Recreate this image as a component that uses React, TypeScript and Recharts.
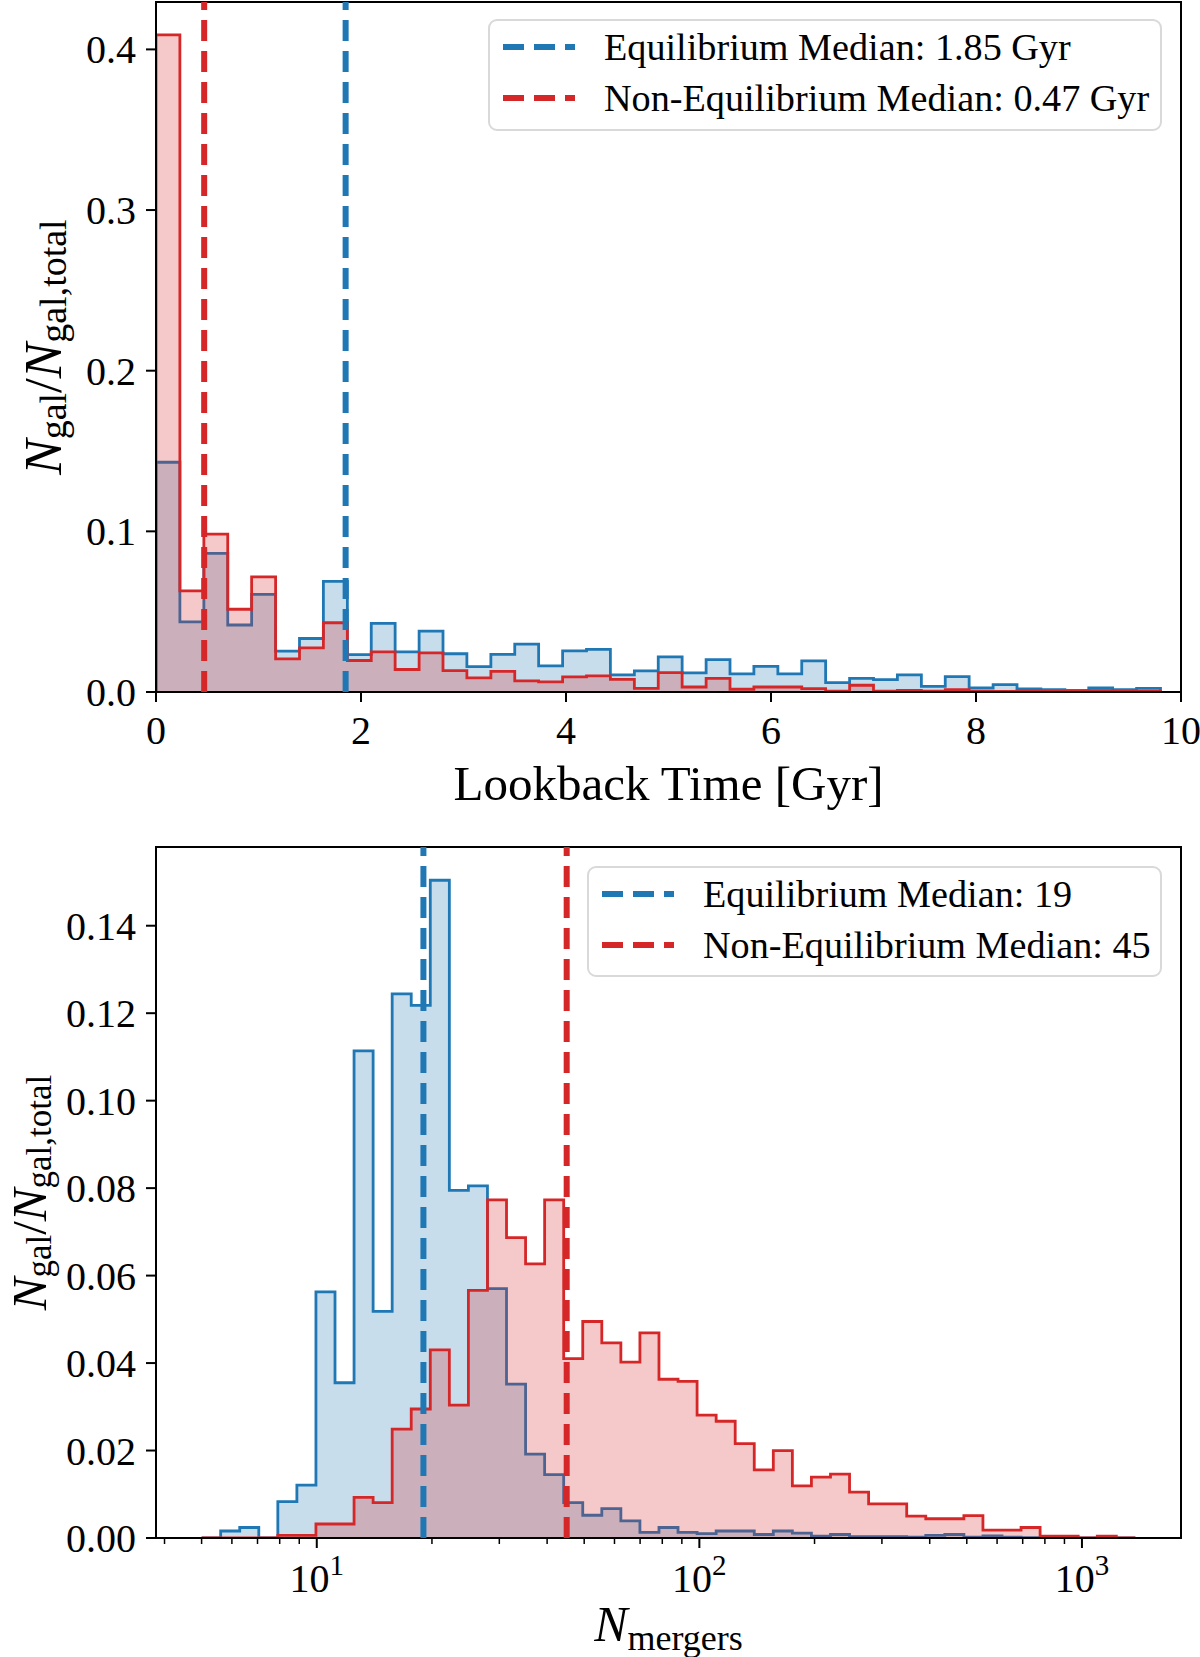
import React from "react";
import {
  ComposedChart,
  Area,
  XAxis,
  YAxis,
  ReferenceLine,
  ReferenceArea,
  Legend,
} from "recharts";

const BLUE = "#1f77b4";
const RED = "#d62728";
const FONT = '"Liberation Serif", "Times New Roman", serif';

// ---- lookback time of last merger (Gyr), 42 shared bins ----
const timeEdges = [
  0, 0.233, 0.467, 0.7, 0.933, 1.167, 1.4, 1.633, 1.867, 2.1, 2.333, 2.567,
  2.8, 3.033, 3.267, 3.5, 3.733, 3.967, 4.2, 4.433, 4.667, 4.9, 5.133, 5.367,
  5.6, 5.833, 6.067, 6.3, 6.533, 6.767, 7.0, 7.233, 7.467, 7.7, 7.933, 8.167,
  8.4, 8.633, 8.867, 9.1, 9.333, 9.567, 9.8,
];
const timeEquilibrium = [
  0.143, 0.0437, 0.0863, 0.0417, 0.0608, 0.0254, 0.0333, 0.0688, 0.0233,
  0.0427, 0.025, 0.0379, 0.0238, 0.0158, 0.0234, 0.0298, 0.0163, 0.0256,
  0.0265, 0.0106, 0.0131, 0.0219, 0.0119, 0.0202, 0.0113, 0.016, 0.0113,
  0.0194, 0.0058, 0.0085, 0.0077, 0.0106, 0.0035, 0.0096, 0.0025, 0.0046,
  0.0019, 0.0015, 0.001, 0.0025, 0.0015, 0.0023,
];
const timeNonEquilibrium = [
  0.409, 0.0629, 0.0983, 0.0515, 0.0717, 0.0206, 0.0275, 0.0431, 0.0196,
  0.025, 0.014, 0.0244, 0.0133, 0.0088, 0.0129, 0.0069, 0.0063, 0.0094, 0.01,
  0.0079, 0.0023, 0.0121, 0.0031, 0.0085, 0.0017, 0.0031, 0.0031, 0.0021,
  0.0006, 0.0042, 0.0006, 0.001, 0.0006, 0.0015, 0.0004, 0.0004, 0.0006,
  0.0004, 0.0004, 0.0008, 0.0003, 0.0004,
];
const timeTicks = [0, 2, 4, 6, 8, 10];
const timeFracTicks = [0, 0.1, 0.2, 0.3, 0.4];
const timeMedianEq = 1.85;
const timeMedianNeq = 0.47;

// ---- number of mergers, 49 log-spaced shared bins ----
const mergerEdges = [
  5.0, 5.608, 6.289, 7.054, 7.911, 8.872, 9.95, 11.16, 12.516, 14.037, 15.743,
  17.656, 19.802, 22.208, 24.907, 27.934, 31.329, 35.136, 39.406, 44.195,
  49.566, 55.59, 62.345, 69.922, 78.42, 87.949, 98.638, 110.63, 124.07,
  139.15, 156.06, 175.02, 196.29, 220.15, 246.9, 276.91, 310.56, 348.3,
  390.63, 438.1, 491.34, 551.05, 618.02, 693.13, 777.36, 871.84, 977.79,
  1096.6, 1229.9, 1379.3,
];
const mergerEquilibrium = [
  0, 0.0016, 0.0024, 0, 0.0083, 0.0121, 0.0563, 0.0355, 0.1114, 0.0518,
  0.1244, 0.1218, 0.1504, 0.0795, 0.0805, 0.057, 0.0352, 0.0192, 0.0145,
  0.0081, 0.0052, 0.0067, 0.0039, 0.0013, 0.0024, 0.0013, 0.001, 0.0016,
  0.0016, 0.0008, 0.0016, 0.0011, 0.0004, 0.0008, 0.0003, 0.0003, 0.0003,
  0.0002, 0.0006, 0.0008, 0.0002, 0.0005, 0.0002, 0.0001, 0.0001, 0, 0, 0, 0,
];
const mergerNonEquilibrium = [
  0, 0, 0, 0, 0.0006, 0.0006, 0.0032, 0.0032, 0.0093, 0.0081, 0.0249, 0.0295,
  0.043, 0.0304, 0.0566, 0.0773, 0.0687, 0.0627, 0.0773, 0.041, 0.0495,
  0.0446, 0.0402, 0.0469, 0.0363, 0.0358, 0.0281, 0.0267, 0.0216, 0.0156,
  0.02, 0.0119, 0.0139, 0.0146, 0.0105, 0.0078, 0.0078, 0.005, 0.0044,
  0.0044, 0.0051, 0.0018, 0.0018, 0.0024, 0.0004, 0.0004, 0, 0.0004, 0,
];
const mergerTicks = [
  4, 5, 6, 7, 8, 9, 10, 20, 30, 40, 50, 60, 70, 80, 90, 100, 200, 300, 400,
  500, 600, 700, 800, 900, 1000,
];
const mergerFracTicks = [0, 0.02, 0.04, 0.06, 0.08, 0.1, 0.12, 0.14];
const mergerMedianEq = 19;
const mergerMedianNeq = 45;

type Row = { x: number; eq: number; neq: number };

// closed step outline: rise at the first edge, drop at the last one
function stepRows(edges: number[], eq: number[], neq: number[]): Row[] {
  const rows: Row[] = [{ x: edges[0], eq: 0, neq: 0 }];
  eq.forEach((v, i) => rows.push({ x: edges[i], eq: v, neq: neq[i] }));
  const n = eq.length;
  rows.push({ x: edges[n], eq: eq[n - 1], neq: neq[n - 1] });
  rows.push({ x: edges[n], eq: 0, neq: 0 });
  return rows;
}

const timeRows = stepRows(timeEdges, timeEquilibrium, timeNonEquilibrium);
const mergerRows = stepRows(mergerEdges, mergerEquilibrium, mergerNonEquilibrium);

const TICK_FONT = 40;
const MEDIAN_WIDTH = 6;
const MEDIAN_DASH = "21 10";

function XTick(props: any) {
  const { x, y, payload } = props;
  return (
    <g>
      <line x1={x} x2={x} y1={y} y2={y + 10} stroke="#000" strokeWidth={2} />
      <text x={x} y={y + 52} textAnchor="middle" fontFamily={FONT} fontSize={TICK_FONT}>
        {payload.value}
      </text>
    </g>
  );
}

function LogXTick(props: any) {
  const { x, y, payload } = props;
  const exp = Math.log10(payload.value);
  const major = Math.abs(exp - Math.round(exp)) < 1e-9;
  if (!major) {
    return <line x1={x} x2={x} y1={y} y2={y + 6} stroke="#000" strokeWidth={1.5} />;
  }
  return (
    <g>
      <line x1={x} x2={x} y1={y} y2={y + 10} stroke="#000" strokeWidth={2} />
      <text x={x} y={y + 54} textAnchor="middle" fontFamily={FONT} fontSize={TICK_FONT}>
        10
        <tspan dy={-17} fontSize={29}>
          {Math.round(exp)}
        </tspan>
      </text>
    </g>
  );
}

function YTick(props: any) {
  const { x, y, payload, digits } = props;
  return (
    <g>
      <line x1={x - 10} x2={x} y1={y} y2={y} stroke="#000" strokeWidth={2} />
      <text
        x={x - 20}
        y={y + 14}
        textAnchor="end"
        fontFamily={FONT}
        fontSize={TICK_FONT}
      >
        {payload.value.toFixed(digits)}
      </text>
    </g>
  );
}

function FractionLabel(props: any) {
  const { viewBox, baseline, size = 53 } = props;
  const cy = viewBox.y + viewBox.height / 2;
  const sub = Math.round(size * 0.72);
  return (
    <text
      x={baseline}
      y={cy}
      transform={`rotate(-90, ${baseline}, ${cy})`}
      textAnchor="middle"
      fontFamily={FONT}
      fontSize={size}
    >
      <tspan fontStyle="italic">N</tspan>
      <tspan dy={5} fontSize={sub}>gal</tspan>
      <tspan dy={-5}>/</tspan>
      <tspan fontStyle="italic">N</tspan>
      <tspan dy={5} fontSize={sub}>gal,total</tspan>
    </text>
  );
}

function TimeLabel(props: any) {
  const { viewBox } = props;
  return (
    <text
      x={viewBox.x + viewBox.width / 2}
      y={viewBox.y + 108}
      textAnchor="middle"
      fontFamily={FONT}
      fontSize={49}
    >
      Lookback Time [Gyr]
    </text>
  );
}

function MergersLabel(props: any) {
  const { viewBox } = props;
  return (
    <text
      x={viewBox.x + viewBox.width / 2}
      y={viewBox.y + 103}
      textAnchor="middle"
      fontFamily={FONT}
      fontSize={50}
    >
      <tspan fontStyle="italic">N</tspan>
      <tspan dy={9} fontSize={36}>mergers</tspan>
    </text>
  );
}

type LegendRow = { label: string; color: string };

function MedianLegend({ rows, width, height }: { rows: LegendRow[]; width: number; height: number }) {
  return (
    <div
      style={{
        position: "relative",
        width,
        height,
        boxSizing: "border-box",
        border: "2px solid #d9d9d9",
        borderRadius: 9,
        background: "rgba(255,255,255,0.8)",
        fontFamily: FONT,
        fontSize: 38.2,
        color: "#000",
      }}
    >
      {rows.map((r, i) => (
        <div
          key={r.label}
          style={{
            position: "absolute",
            left: 13,
            top: 26 + i * 50.5 - 25,
            height: 50,
            display: "flex",
            alignItems: "center",
            whiteSpace: "nowrap",
          }}
        >
          <svg width={72} height={10} style={{ display: "block" }}>
            <line
              x1={0}
              x2={72}
              y1={5}
              y2={5}
              stroke={r.color}
              strokeWidth={MEDIAN_WIDTH}
              strokeDasharray={MEDIAN_DASH}
            />
          </svg>
          <span style={{ marginLeft: 29, lineHeight: "50px" }}>{r.label}</span>
        </div>
      ))}
    </div>
  );
}

const timeLegend: LegendRow[] = [
  { label: `Equilibrium Median: ${timeMedianEq.toFixed(2)} Gyr`, color: BLUE },
  { label: `Non-Equilibrium Median: ${timeMedianNeq.toFixed(2)} Gyr`, color: RED },
];
const mergerLegend: LegendRow[] = [
  { label: `Equilibrium Median: ${mergerMedianEq}`, color: BLUE },
  { label: `Non-Equilibrium Median: ${mergerMedianNeq}`, color: RED },
];

const TIME_YMAX = 0.4295;
const MERGER_YMAX = 0.158;
const MERGER_XMIN = 3.8;
const MERGER_XMAX = 1815;

function Histograms() {
  return (
    <>
      <Area
        dataKey="eq"
        type="stepAfter"
        baseValue={0}
        fill={BLUE}
        fillOpacity={0.25}
        stroke={BLUE}
        strokeWidth={2.8}
        dot={false}
        activeDot={false}
        isAnimationActive={false}
      />
      <Area
        dataKey="neq"
        type="stepAfter"
        baseValue={0}
        fill={RED}
        fillOpacity={0.25}
        stroke={RED}
        strokeWidth={2.8}
        dot={false}
        activeDot={false}
        isAnimationActive={false}
      />
    </>
  );
}

function TimeChart() {
  return (
    <ComposedChart width={1200} height={810} data={timeRows} margin={{ top: 2, right: 19, bottom: 0, left: 0 }}>
      <XAxis
        dataKey="x"
        type="number"
        domain={[0, 10]}
        allowDataOverflow
        ticks={timeTicks}
        interval={0}
        tick={<XTick />}
        tickLine={false}
        axisLine={false}
        tickSize={0}
        tickMargin={0}
        height={118}
        label={<TimeLabel />}
      />
      <YAxis
        type="number"
        domain={[0, TIME_YMAX]}
        allowDataOverflow
        ticks={timeFracTicks}
        interval={0}
        tick={<YTick digits={1} />}
        tickLine={false}
        axisLine={false}
        tickSize={0}
        tickMargin={0}
        width={156}
        label={<FractionLabel baseline={61} />}
      />
      {Histograms()}
      <ReferenceLine x={timeMedianEq} stroke={BLUE} strokeWidth={MEDIAN_WIDTH} strokeDasharray={MEDIAN_DASH} />
      <ReferenceLine x={timeMedianNeq} stroke={RED} strokeWidth={MEDIAN_WIDTH} strokeDasharray={MEDIAN_DASH} />
      <ReferenceArea
        x1={0}
        x2={10}
        y1={0}
        y2={TIME_YMAX}
        fill="none"
        fillOpacity={0}
        stroke="#000"
        strokeWidth={2}
        ifOverflow="visible"
      />
      <Legend
        layout="vertical"
        align="center"
        verticalAlign="middle"
        wrapperStyle={{ left: 488, top: 19, width: 674 }}
        content={() => <MedianLegend rows={timeLegend} width={674} height={112} />}
      />
    </ComposedChart>
  );
}

function MergerChart() {
  return (
    <ComposedChart width={1200} height={847} data={mergerRows} margin={{ top: 37, right: 19, bottom: 0, left: 0 }}>
      <XAxis
        dataKey="x"
        type="number"
        scale="log"
        domain={[MERGER_XMIN, MERGER_XMAX]}
        allowDataOverflow
        ticks={mergerTicks}
        interval={0}
        tick={<LogXTick />}
        tickLine={false}
        axisLine={false}
        tickSize={0}
        tickMargin={0}
        height={119}
        label={<MergersLabel />}
      />
      <YAxis
        type="number"
        domain={[0, MERGER_YMAX]}
        allowDataOverflow
        ticks={mergerFracTicks}
        interval={0}
        tick={<YTick digits={2} />}
        tickLine={false}
        axisLine={false}
        tickSize={0}
        tickMargin={0}
        width={156}
        label={<FractionLabel baseline={46} size={49} />}
      />
      {Histograms()}
      <ReferenceLine x={mergerMedianEq} stroke={BLUE} strokeWidth={MEDIAN_WIDTH} strokeDasharray={MEDIAN_DASH} />
      <ReferenceLine x={mergerMedianNeq} stroke={RED} strokeWidth={MEDIAN_WIDTH} strokeDasharray={MEDIAN_DASH} />
      <ReferenceArea
        x1={MERGER_XMIN}
        x2={MERGER_XMAX}
        y1={0}
        y2={MERGER_YMAX}
        fill="none"
        fillOpacity={0}
        stroke="#000"
        strokeWidth={2}
        ifOverflow="visible"
      />
      <Legend
        layout="vertical"
        align="center"
        verticalAlign="middle"
        wrapperStyle={{ left: 587, top: 56, width: 575 }}
        content={() => <MedianLegend rows={mergerLegend} width={575} height={111} />}
      />
    </ComposedChart>
  );
}

export default function App() {
  return (
    <div style={{ position: "absolute", left: 0, top: 0, width: 1200, height: 1657, background: "#fff" }}>
      <TimeChart />
      <MergerChart />
    </div>
  );
}
